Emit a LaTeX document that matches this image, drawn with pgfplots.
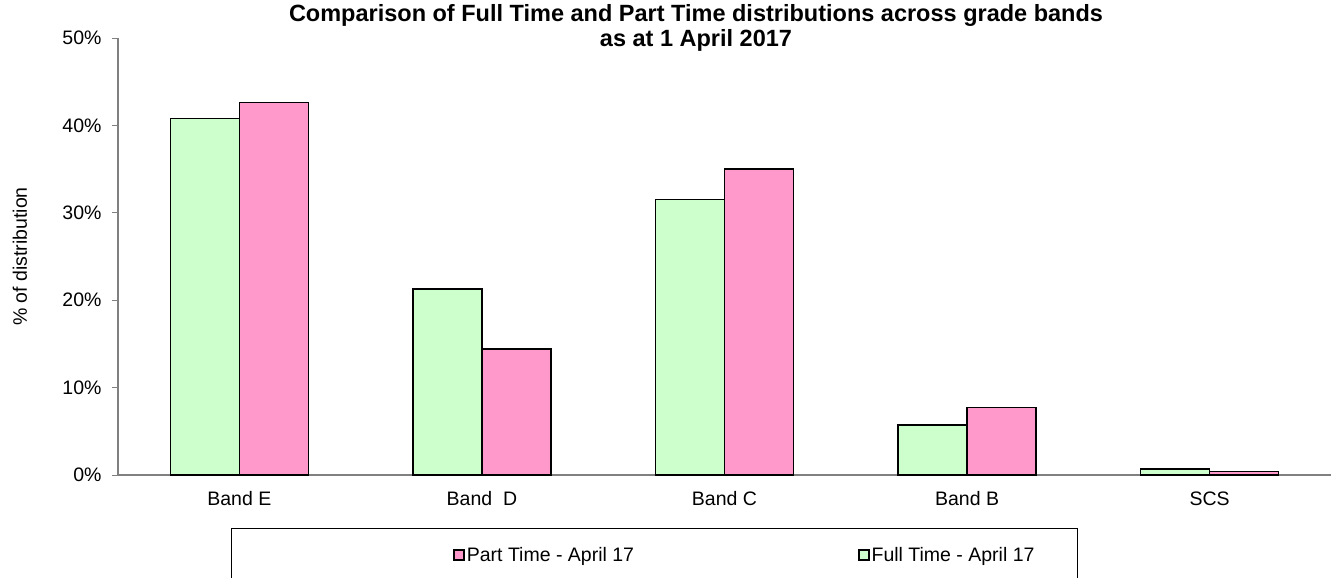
\documentclass[border=0pt]{standalone}
\usepackage{fontspec}
\setmainfont{Liberation Sans}
\usepackage{pgfplots}
\pgfplotsset{compat=1.18}
\definecolor{ftgreen}{HTML}{CCFFCC}
\definecolor{ptpink}{HTML}{FF99CC}
\definecolor{axgray}{HTML}{808080}
\newcommand{\lblfont}{\fontsize{19.5}{22}\selectfont}
\pgfplotsset{boxlegend/.style={legend image code/.code={\draw[##1, line width=1.5pt] (0pt,-5pt) rectangle (10pt,5pt);}}}
\begin{document}
\begin{tikzpicture}
\begin{axis}[
  at={(118pt,-475pt)}, anchor=south west,
  scale only axis, width=1213pt, height=437pt,
  xmin=-0.5, xmax=4.5, ymin=0, ymax=50,
  axis x line=bottom, axis y line=left,
  axis line style={-, draw=axgray, line width=1.2pt},
  ytick={0,10,...,50},
  yticklabel={\pgfmathprintnumber{\tick}\%},
  xtick={0,...,4},
  xticklabels={Band E, Band\ \ D, Band C, Band B, SCS},
  x tick style={draw=none},
  y tick style={draw=axgray, line width=1pt},
  tick align=outside, major tick length=6pt,
  tick label style={font=\lblfont},
  yticklabel style={xshift=-7pt},
  xticklabel style={yshift=-7pt},
  /pgf/number format/assume math mode=true,
  ylabel={\% of distribution},
  ylabel style={font=\lblfont, at={(axis description cs:-0.0808,0.5)}, anchor=center},
  title={Comparison of Full Time and Part Time distributions across grade bands\\as at 1 April 2017},
  title style={font=\bfseries\fontsize{23.5}{25}\selectfont, align=center, inner sep=0pt,
    at={(axis description cs:0.4765,1)}, anchor=north, yshift=28pt},
  legend columns=2,
  legend style={at={(axis description cs:0.2763,-0.183)}, anchor=west, draw=none, fill=none, inner sep=0pt, font=\lblfont,
    /tikz/every even column/.append style={column sep=222pt}},
]
\addplot[ybar, bar width=69pt, bar shift=34.5pt, fill=ptpink, draw=black, line width=1.5pt, boxlegend]
  coordinates {(0,42.6) (1,14.4) (2,35.0) (3,7.75) (4,0.38)};
\addlegendentry{Part Time - April 17}
\addplot[ybar, bar width=69pt, bar shift=-34.5pt, fill=ftgreen, draw=black, line width=1.5pt, boxlegend]
  coordinates {(0,40.8) (1,21.3) (2,31.5) (3,5.7) (4,0.7)};
\addlegendentry{Full Time - April 17}
\end{axis}
\draw[black, line width=1pt] (231pt,-528pt) rectangle (1077pt,-620pt);
\pgfresetboundingbox
\useasboundingbox (0,0) rectangle (1331pt,-578pt);
\end{tikzpicture}
\end{document}
